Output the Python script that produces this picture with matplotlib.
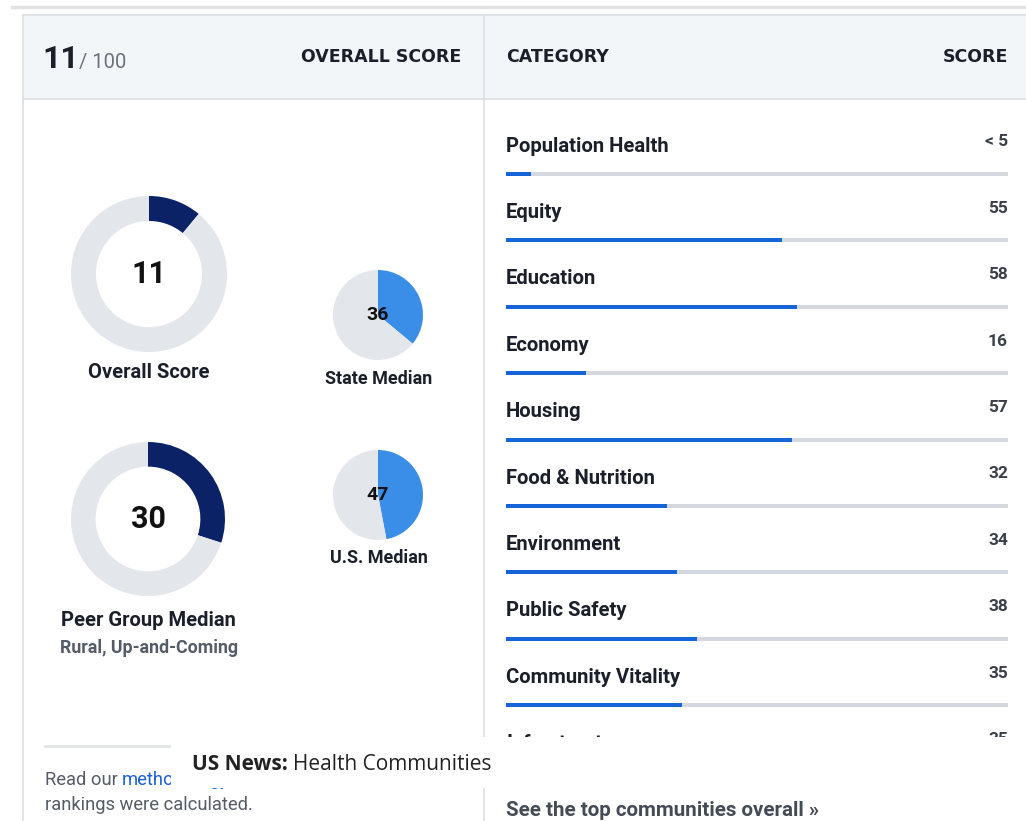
import matplotlib
matplotlib.use("Agg")
import matplotlib.pyplot as plt
from matplotlib.patches import Rectangle

W, H = 1026, 821

# --- data ---
overall_score = 11
peer_median = 30
state_median = 36
us_median = 47

categories = ["Population Health", "Equity", "Education", "Economy", "Housing",
              "Food & Nutrition", "Environment", "Public Safety",
              "Community Vitality", "Infrastructure"]
scores = [5, 55, 58, 16, 57, 32, 34, 38, 35, 35]
score_labels = ["< 5", "55", "58", "16", "57", "32", "34", "38", "35", "35"]

navy = "#0b2266"
ring_grey = "#e3e6eb"
pie_blue = "#3a8ee8"
bar_blue = "#1565d8"
bar_grey = "#d5d9df"
dark = "#1b1f29"
mid = "#555c67"
line_c = "#dcdfe3"

plt.rcParams['font.family'] = ['Roboto', 'DejaVu Sans']

fig = plt.figure(figsize=(W / 100, H / 100), dpi=100)
fig.patch.set_facecolor("white")

ax = fig.add_axes([0, 0, 1, 1])
ax.set_xlim(0, W)
ax.set_ylim(H, 0)
ax.axis("off")
fig.canvas.draw()
renderer = fig.canvas.get_renderer()


def right_edge(a, t):
    bb = t.get_window_extent(renderer=renderer)
    return a.transData.inverted().transform((bb.x1, bb.y0))[0]


# page frame
ax.plot([12, W], [7, 7], color="#e2e2e2", lw=2.5)
ax.add_patch(Rectangle((23, 15), W, 84, facecolor="#f3f6f9", edgecolor="none"))
ax.plot([23, W], [15, 15], color=line_c, lw=1.2)
ax.plot([23, W], [99, 99], color=line_c, lw=1.2)
ax.plot([23, 23], [15, H], color=line_c, lw=1.2)
ax.plot([484, 484], [15, H], color=line_c, lw=1.2)

# header
t11 = ax.text(42, 68, "11", fontsize=23, fontweight="bold", color=dark, ha="left", va="baseline")
ax.text(right_edge(ax, t11), 68, "/ 100", fontsize=14.5, color="#6b717b", ha="left", va="baseline")
ax.text(461, 57, "OVERALL SCORE", fontsize=12.5, fontweight="bold", color=dark,
        ha="right", va="center", family="DejaVu Sans")
ax.text(506, 57, "CATEGORY", fontsize=12.5, fontweight="bold", color=dark,
        ha="left", va="center", family="DejaVu Sans")
ax.text(1008, 57, "SCORE", fontsize=12.5, fontweight="bold", color=dark,
        ha="right", va="center", family="DejaVu Sans")


def sub_axes(cx, cy, r):
    a = fig.add_axes([(cx - r) / W, 1 - (cy + r) / H, 2 * r / W, 2 * r / H])
    a.axis("off")
    return a


def donut(cx, cy, r, value, color, ring, label_size):
    a = sub_axes(cx, cy, r)
    a.pie([value, 100 - value], colors=[color, ring_grey], startangle=90,
          counterclock=False, radius=1,
          wedgeprops=dict(width=ring, linewidth=0))
    a.set_xlim(-1, 1)
    a.set_ylim(-1, 1)
    a.text(0, 0, str(value), fontsize=label_size, fontweight="semibold", color="#111111",
           ha="center", va="center")
    return a


donut(149, 274, 78, overall_score, navy, 0.32, 22)
donut(148, 519, 77, peer_median, navy, 0.32, 22)
donut(378, 315, 45, state_median, pie_blue, 1.0, 14)
donut(378, 495, 45, us_median, pie_blue, 1.0, 14)

ax.text(149, 373, "Overall Score", fontsize=14.5, fontweight="bold", color=dark, ha="center", va="center")
ax.text(379, 379, "State Median", fontsize=13, fontweight="bold", color=dark, ha="center", va="center")
ax.text(379, 558, "U.S. Median", fontsize=13, fontweight="bold", color=dark, ha="center", va="center")
ax.text(148, 620, "Peer Group Median", fontsize=14.5, fontweight="bold", color=dark, ha="center", va="center")
ax.text(149, 648, "Rural, Up-and-Coming", fontsize=12.8, fontweight="bold", color=mid, ha="center", va="center")

# bottom left note
ax.plot([45, 200], [746, 746], color="#e1e3e7", lw=2)
t_read = ax.text(45, 780, "Read our", fontsize=13.2, color=mid, ha="left", va="center")
ax.text(right_edge(ax, t_read) + 4, 780, "methodology", fontsize=13.2,
        color="#1a5fd8", ha="left", va="center")
ax.text(45, 805, "rankings were calculated.", fontsize=13.2, color=mid, ha="left", va="center")

# category bars
axb = fig.add_axes([506 / W, 0, 502 / W, 1])
axb.set_xlim(0, 100)
axb.set_ylim(H, 0)
axb.axis("off")
label_y = [146 + 66.4 * i for i in range(len(categories))]
bar_y = [y + 28 for y in label_y]
axb.barh(bar_y, [100] * len(categories), height=4, color=bar_grey, left=0)
axb.barh(bar_y, scores, height=4, color=bar_blue, left=0)
for name, lab, y in zip(categories, score_labels, label_y):
    axb.text(0, y, name, fontsize=14.6, fontweight="bold", color=dark, ha="left", va="center")
    axb.text(100, y - 4, lab, fontsize=12.5, fontweight="bold", color="#3a3f48", ha="right", va="center")
axb.text(0, 811, "See the top communities overall \u00bb", fontsize=14.8, fontweight="bold",
         color="#454b55", ha="left", va="center")

# white caption strip over the page
axo = fig.add_axes([0, 0, 1, 1])
axo.set_xlim(0, W)
axo.set_ylim(H, 0)
axo.axis("off")
axo.add_patch(Rectangle((171, 737), W - 171, 51, facecolor="white", edgecolor="none"))
tb = axo.text(192, 765, "US News:", fontsize=15, fontweight="bold", color="#222222",
              ha="left", va="center", family="Open Sans")
axo.text(right_edge(axo, tb) + 5, 765, "Health Communities", fontsize=15, color="#222222",
         ha="left", va="center", family="Open Sans")

fig.savefig("out.png", dpi=100, facecolor="white")
